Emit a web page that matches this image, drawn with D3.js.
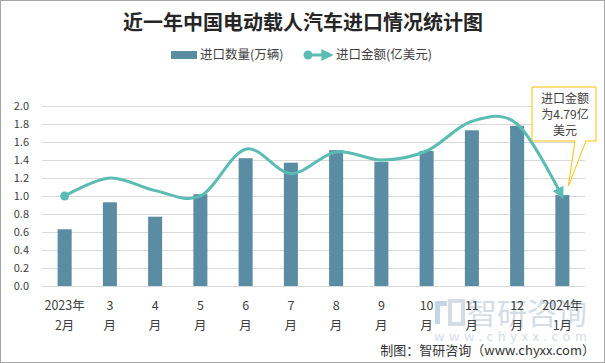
<!DOCTYPE html>
<html>
<head>
<meta charset="utf-8">
<script src="https://cdn.jsdelivr.net/npm/d3@7"></script>
<style>
  body { margin: 0; background: #fff; }
  text { font-family: "Noto Sans CJK SC", "Noto Sans", sans-serif; }
</style>
</head>
<body>
<div id="chart"></div>
<script>
// data
const months = ["2023年2月", "3月", "4月", "5月", "6月", "7月", "8月", "9月", "10月", "11月", "12月", "2024年1月"];
const labelTop = ["2023年", "3", "4", "5", "6", "7", "8", "9", "10", "11", "12", "2024年"];
const labelBottom = ["2月", "月", "月", "月", "月", "月", "月", "月", "月", "月", "月", "1月"];
const quantity = [0.63, 0.93, 0.77, 1.02, 1.42, 1.37, 1.51, 1.38, 1.50, 1.73, 1.78, 1.01];
const amount = [1.00, 1.20, 1.06, 1.00, 1.52, 1.25, 1.49, 1.40, 1.50, 1.83, 1.80, 0.99];
const yTicks = [0, 0.2, 0.4, 0.6, 0.8, 1.0, 1.2, 1.4, 1.6, 1.8, 2.0];

const w = 605;
const h = 363;
const barColor = "#5a8ca4";
const lineColor = "#5bbcb3";

const svg = d3.select("#chart")
  .append("svg")
  .attr("width", w)
  .attr("height", h);

// outer frame
svg.append("rect")
  .attr("x", 0.5).attr("y", 0.5)
  .attr("width", w - 1).attr("height", h - 1)
  .attr("fill", "#fff")
  .attr("stroke", "#a6a6a6");

const defs = svg.append("defs");
defs.append("marker")
  .attr("id", "arrow")
  .attr("viewBox", "0 0 10 10")
  .attr("refX", 8).attr("refY", 5)
  .attr("markerWidth", 4).attr("markerHeight", 4)
  .attr("markerUnits", "strokeWidth")
  .attr("orient", "auto")
  .append("path")
  .attr("d", "M0,0 L10,5 L0,10 Z")
  .attr("fill", lineColor);

const xScale = d3.scaleBand()
  .domain(months)
  .range([42, 585]);

const yScale = d3.scaleLinear()
  .domain([0, 2])
  .range([286, 106]);

const cx = (d) => xScale(d) + xScale.bandwidth() / 2;
const barW = xScale.bandwidth() * 0.31;

// title
svg.append("text")
  .attr("x", 303).attr("y", 30)
  .attr("text-anchor", "middle")
  .attr("font-size", 20)
  .attr("font-weight", "bold")
  .attr("fill", "#262626")
  .text("近一年中国电动载人汽车进口情况统计图");

// legend
const legend = svg.append("g").attr("font-size", 12.5).attr("fill", "#404040");
legend.append("rect")
  .attr("x", 171).attr("y", 51)
  .attr("width", 26).attr("height", 8)
  .attr("fill", barColor);
legend.append("text").attr("x", 200).attr("y", 59).text("进口数量(万辆)");
legend.append("line")
  .attr("x1", 308).attr("y1", 55).attr("x2", 331).attr("y2", 55)
  .attr("stroke", lineColor).attr("stroke-width", 3)
  .attr("marker-end", "url(#arrow)");
legend.append("circle")
  .attr("cx", 308).attr("cy", 55).attr("r", 4.5)
  .attr("fill", lineColor);
legend.append("text").attr("x", 336).attr("y", 59).text("进口金额(亿美元)");

// grid
const yGrid = d3.axisLeft(yScale)
  .tickValues(yTicks)
  .tickSize(-(585 - 42))
  .tickFormat("");

svg.append("g")
  .attr("transform", "translate(42,0)")
  .call(yGrid)
  .call((g) => g.select(".domain").remove())
  .call((g) => g.selectAll("line").attr("stroke", "#d9d9d9"));

// y labels
const yAxis = d3.axisLeft(yScale)
  .tickValues(yTicks)
  .tickSize(0)
  .tickPadding(0)
  .tickFormat(d3.format(".1f"));

svg.append("g")
  .attr("transform", "translate(29,0)")
  .call(yAxis)
  .call((g) => g.select(".domain").remove())
  .call((g) => g.selectAll("text")
    .attr("font-size", 11)
    .attr("fill", "#404040")
    .style("font-family", '"Noto Sans CJK SC", sans-serif'));

// bars
svg.selectAll(".bar")
  .data(quantity)
  .enter()
  .append("rect")
  .attr("class", "bar")
  .attr("x", (d, i) => cx(months[i]) - barW / 2)
  .attr("y", (d) => yScale(d))
  .attr("width", barW)
  .attr("height", (d) => yScale(0) - yScale(d))
  .attr("fill", barColor);

// watermark (sits behind the labels)
const wm = svg.append("g").attr("fill", "#c3cfdc").attr("opacity", 0.7);
wm.append("rect").attr("x", 435).attr("y", 301).attr("width", 12).attr("height", 5).attr("fill", "#aac6e0");
wm.append("rect").attr("x", 435).attr("y", 306).attr("width", 5).attr("height", 18).attr("fill", "#aac6e0");
wm.append("rect").attr("x", 450).attr("y", 301).attr("width", 13).attr("height", 23).attr("fill", "none").attr("stroke", "#c3cfdc").attr("stroke-width", 4);
wm.append("text")
  .attr("x", 467).attr("y", 324)
  .attr("font-size", 30)
  .attr("textLength", 120)
  .text("智研咨询");
wm.append("text")
  .attr("x", 434).attr("y", 341)
  .attr("font-size", 13)
  .attr("textLength", 153)
  .text("www.chyxx.com");

// x labels
const xl = svg.append("g").attr("font-size", 12.5).attr("fill", "#404040").attr("text-anchor", "middle");
xl.selectAll(".top")
  .data(labelTop)
  .enter()
  .append("text")
  .attr("x", (d, i) => cx(months[i]))
  .attr("y", 310)
  .text((d) => d);
xl.selectAll(".bottom")
  .data(labelBottom)
  .enter()
  .append("text")
  .attr("x", (d, i) => cx(months[i]))
  .attr("y", 330)
  .text((d) => d);

// amount line
const line = d3.line()
  .x((d, i) => cx(months[i]))
  .y((d) => yScale(d))
  .curve(d3.curveCatmullRom.alpha(0));

svg.append("path")
  .datum(amount)
  .attr("d", line)
  .attr("fill", "none")
  .attr("stroke", lineColor)
  .attr("stroke-width", 3)
  .attr("marker-end", "url(#arrow)");

svg.append("circle")
  .attr("cx", cx(months[0]))
  .attr("cy", yScale(amount[0]))
  .attr("r", 4.5)
  .attr("fill", lineColor);

// callout
const tipX = cx(months[11]) + 6;
const tipY = yScale(amount[11]) - 11;
svg.append("path")
  .attr("d", `M532,87 H596 V141 H586 L${tipX},${tipY} L575,141 H532 Z`)
  .attr("fill", "#fff")
  .attr("stroke", "#ffc000")
  .attr("stroke-width", 1);
const callout = svg.append("g").attr("font-size", 12).attr("fill", "#404040").attr("text-anchor", "middle");
["进口金额", "为4.79亿", "美元"].forEach((t, i) => {
  callout.append("text").attr("x", 565).attr("y", 103 + i * 16).text(t);
});

// footer
svg.append("text")
  .attr("x", 595).attr("y", 355)
  .attr("text-anchor", "end")
  .attr("font-size", 13)
  .attr("fill", "#333")
  .text("制图：智研咨询（www.chyxx.com）");
</script>
</body>
</html>
